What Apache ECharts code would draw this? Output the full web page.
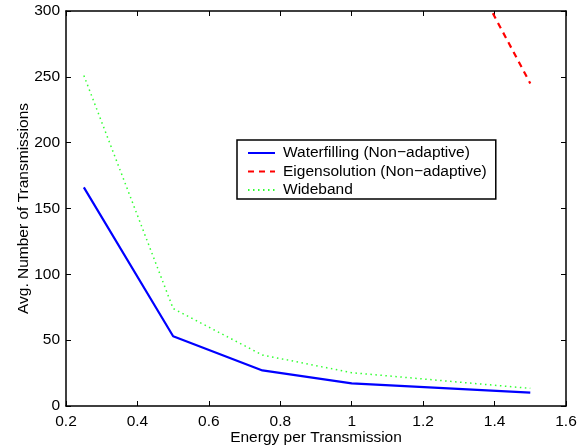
<!DOCTYPE html>
<html>
<head>
<meta charset="utf-8">
<script src="https://cdn.jsdelivr.net/npm/echarts@6/dist/echarts.min.js"></script>
<style>
  html, body { margin: 0; padding: 0; background: #fff; }
  #main { width: 582px; height: 446px; }
</style>
</head>
<body>
<div id="main"></div>
<script>
// values
const energy = [0.25, 0.5, 0.75, 1.0, 1.5];
const waterfilling = [166, 53, 27, 17.2, 10.1];
const wideband = [251, 74, 38.7, 25.3, 13.4];
const eigenEnergy = [1.25, 1.5];
const eigensolution = [372, 245];

const xTicks = [0.2, 0.4, 0.6, 0.8, 1, 1.2, 1.4, 1.6];
const yTicks = [0, 50, 100, 150, 200, 250, 300];

const font = 'Liberation Sans, Arial, Helvetica, sans-serif';

function pairs(xs, ys) {
  return xs.map((x, i) => [x, ys[i]]);
}

const tickStyle = { show: true, inside: true, length: 5, lineStyle: { color: '#000', width: 1 } };
const lineStyle = { color: '#000', width: 1.5 };

var chart = echarts.init(document.getElementById('main'));
chart.setOption({
  animation: false,
  grid: { left: 66, right: 16, top: 11, bottom: 40, outerBoundsMode: 'none', containLabel: false },
  legend: {
    orient: 'vertical',
    left: 237,
    top: 140,
    padding: [5, 9, 1, 10],
    itemWidth: 27,
    itemHeight: 14,
    itemGap: 2.5,
    borderColor: '#000',
    borderWidth: 1.5,
    backgroundColor: '#fff',
    itemStyle: { opacity: 0 },
    textStyle: { fontFamily: font, fontSize: 15.5, lineHeight: 15, color: '#000', padding: [0, 0, 0, 3] },
    data: ['Waterfilling (Non\u2212adaptive)', 'Eigensolution (Non\u2212adaptive)', 'Wideband']
  },
  xAxis: [{
    type: 'value',
    min: xTicks[0],
    max: xTicks[xTicks.length - 1],
    interval: 0.2,
    name: 'Energy per Transmission',
    nameLocation: 'middle',
    nameGap: 24,
    nameMoveOverlap: false,
    nameTextStyle: { fontFamily: font, fontSize: 15.5, color: '#000' },
    axisLine: { show: true, onZero: false, lineStyle: lineStyle },
    axisTick: tickStyle,
    axisLabel: { fontFamily: font, fontSize: 15.5, color: '#000', margin: 8,
      formatter: v => String(Math.round(v * 10) / 10) },
    splitLine: { show: false }
  }, {
    type: 'value', position: 'top',
    min: xTicks[0], max: xTicks[xTicks.length - 1], interval: 0.2,
    axisLine: { show: true, onZero: false, lineStyle: lineStyle },
    axisTick: tickStyle, axisLabel: { show: false }, splitLine: { show: false }
  }],
  yAxis: [{
    type: 'value',
    min: yTicks[0],
    max: yTicks[yTicks.length - 1],
    interval: 50,
    name: 'Avg. Number of Transmissions',
    nameLocation: 'middle',
    nameGap: 34,
    nameMoveOverlap: false,
    nameTextStyle: { fontFamily: font, fontSize: 15.5, color: '#000' },
    axisLine: { show: true, onZero: false, lineStyle: lineStyle },
    axisTick: tickStyle,
    axisLabel: { fontFamily: font, fontSize: 15.5, color: '#000', margin: 6 },
    splitLine: { show: false }
  }, {
    type: 'value', position: 'right',
    min: yTicks[0], max: yTicks[yTicks.length - 1], interval: 50,
    axisLine: { show: true, onZero: false, lineStyle: lineStyle },
    axisTick: tickStyle, axisLabel: { show: false }, splitLine: { show: false }
  }],
  series: [{
    name: 'Waterfilling (Non\u2212adaptive)',
    type: 'line',
    symbol: 'none',
    clip: true,
    data: pairs(energy, waterfilling),
    lineStyle: { color: '#0000ff', width: 2.2, type: 'solid' },
    itemStyle: { color: '#0000ff' }
  }, {
    name: 'Eigensolution (Non\u2212adaptive)',
    type: 'line',
    symbol: 'none',
    clip: true,
    data: pairs(eigenEnergy, eigensolution),
    lineStyle: { color: '#ff0000', width: 2.2, type: [6, 5] },
    itemStyle: { color: '#ff0000' }
  }, {
    name: 'Wideband',
    type: 'line',
    symbol: 'none',
    clip: true,
    data: pairs(energy, wideband),
    lineStyle: { color: '#33ff33', width: 1.5, type: [1.5, 3.5] },
    itemStyle: { color: '#33ff33' }
  }]
});
</script>
</body>
</html>
